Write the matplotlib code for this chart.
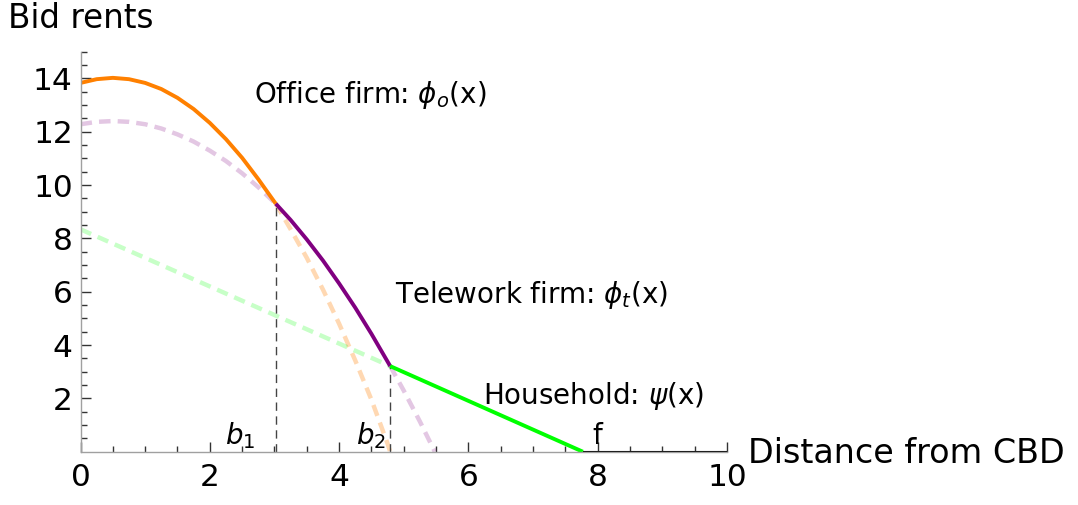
import matplotlib
matplotlib.use("Agg")
import matplotlib.pyplot as plt
import numpy as np

plt.rcParams['font.family'] = ['DejaVu Sans']
plt.rcParams['mathtext.fontset'] = 'dejavusans'

# bid rent curves
office_x = np.array([0, 0.25, 0.5, 0.75, 1.0, 1.25, 1.5, 1.75, 2.0, 2.25, 2.5, 2.75, 3.02,
                     3.25, 3.5, 3.75, 4.0, 4.25, 4.5, 4.75, 4.79])
office_y = np.array([13.83, 13.97, 14.02, 13.97, 13.83, 13.60, 13.27, 12.85, 12.33, 11.72, 11.02,
                     10.22, 9.30, 8.34, 7.27, 6.08, 4.80, 3.42, 1.95, 0.30, 0.0])

tele_x = np.array([0, 0.25, 0.5, 0.75, 1.0, 1.25, 1.5, 1.75, 2.0, 2.25, 2.5, 2.75, 3.02,
                   3.25, 3.5, 3.75, 4.0, 4.25, 4.5, 4.79, 5.0, 5.25, 5.48])
tele_y = np.array([12.28, 12.37, 12.40, 12.37, 12.28, 12.12, 11.90, 11.63, 11.29, 10.90, 10.44,
                   9.92, 9.30, 8.69, 7.96, 7.17, 6.31, 5.40, 4.42, 3.21, 2.29, 1.13, 0.0])

house_x = np.array([0, 4.79, 7.77])
house_y = np.array([8.34, 3.21, 0.0])

# boundaries
b1 = 3.02
b2 = 4.79
f = 7.77
x_max = 10
y_max = 15

ORANGE = '#ff8000'
PURPLE = '#800080'
GREEN = '#00ff00'

fig = plt.figure(figsize=(10.78, 5.05), dpi=100)
ax = fig.add_axes([0.0747, 0.1055, 0.5997, 0.7921])

dash = dict(lw=3.2, ls=(0, (2.6, 1.6)), solid_capstyle='butt')
solid = dict(lw=2.8, solid_capstyle='butt')

# dashed (non-equilibrium) parts
m = office_x >= b1
ax.plot(office_x[m], office_y[m], color=ORANGE, alpha=0.3, **dash)
m = tele_x <= b1
ax.plot(tele_x[m], tele_y[m], color=PURPLE, alpha=0.22, **dash)
m = tele_x >= b2
ax.plot(tele_x[m], tele_y[m], color=PURPLE, alpha=0.22, **dash)
m = house_x <= b2
ax.plot(house_x[m], house_y[m], color=GREEN, alpha=0.22, **dash)

# boundary lines
i1 = np.argmin(abs(office_x - b1))
i2 = np.argmin(abs(house_x - b2))
ax.plot([b1, b1], [0, office_y[i1]], color='#444444', lw=1.0, ls=(0, (6, 4)))
ax.plot([b2, b2], [0, house_y[i2]], color='#444444', lw=1.0, ls=(0, (6, 4)))

# equilibrium envelope
m = office_x <= b1
ax.plot(office_x[m], office_y[m], color=ORANGE, **solid)
m = (tele_x >= b1) & (tele_x <= b2)
ax.plot(tele_x[m], tele_y[m], color=PURPLE, **solid)
m = house_x >= b2
ax.plot(house_x[m], house_y[m], color=GREEN, **solid)
ax.plot([f, x_max], [0, 0], color='black', lw=1.5, solid_capstyle='butt')

ax.set_xlim(0, x_max)
ax.set_ylim(0, y_max)
for s in ['top', 'right']:
    ax.spines[s].set_visible(False)
for s in ['left', 'bottom']:
    ax.spines[s].set_color('#a0a0a0')
    ax.spines[s].set_linewidth(1.0)

ax.set_xticks(np.arange(0, 11, 2))
ax.set_xticks(np.arange(0, 10.01, 0.5), minor=True)
ax.set_yticks(np.arange(2, 15, 2))
ax.set_yticks(np.arange(0.5, 15.01, 0.5), minor=True)
ax.tick_params(which='both', direction='in', color='#333333', labelsize=22.5, width=1.0)
ax.tick_params(which='major', length=7)
ax.tick_params(which='minor', length=4)
ax.tick_params(axis='x', pad=8)
ax.tick_params(axis='y', pad=5.5)

fig.text(0.007, 0.944, 'Bid rents', fontsize=23.5, va='baseline', ha='left')
fig.text(0.694, 0.0826, 'Distance from CBD', fontsize=24, va='baseline', ha='left')

ax.text(2.68, 13.06, r'Office firm: $\phi_o$(x)', fontsize=20, va='baseline')
ax.text(4.86, 5.56, r'Telework firm: $\phi_t$(x)', fontsize=20, va='baseline')
ax.text(6.23, 1.79, r'Household: $\psi$(x)', fontsize=20, va='baseline')
ax.text(2.47, 0.30, r'$b_1$', fontsize=20, ha='center', va='baseline')
ax.text(4.49, 0.30, r'$b_2$', fontsize=20, ha='center', va='baseline')
ax.text(8.0, 0.30, 'f', fontsize=20, ha='center', va='baseline')

fig.savefig('out.png', dpi=100)
